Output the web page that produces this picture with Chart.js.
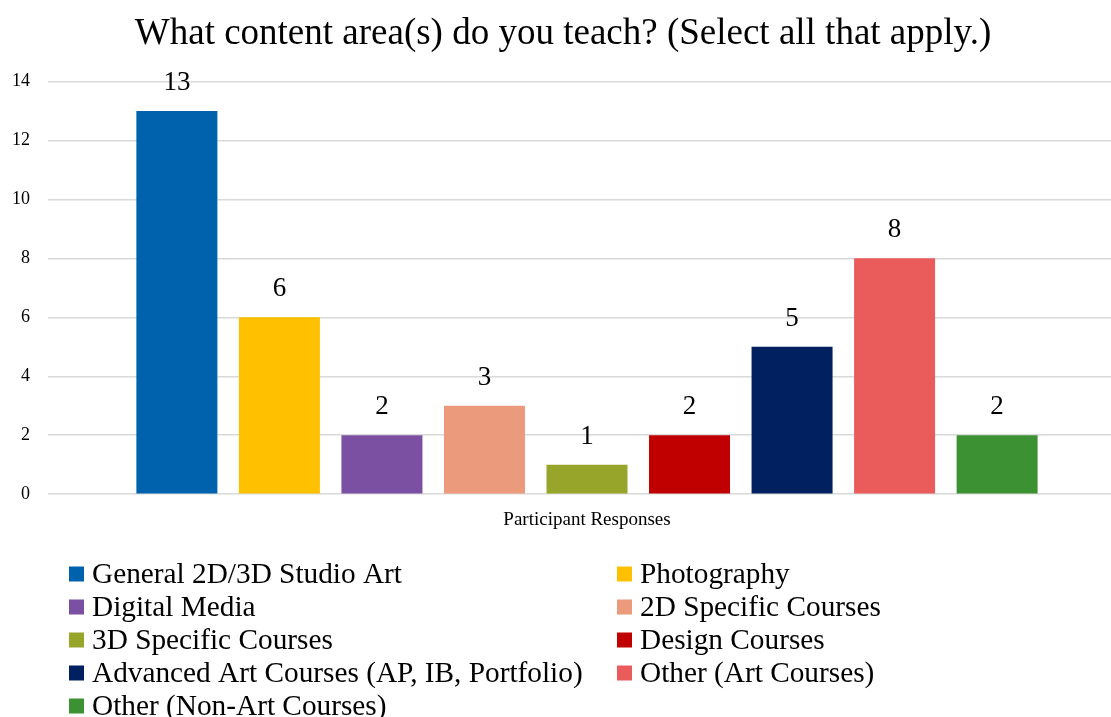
<!DOCTYPE html>
<html>
<head>
<meta charset="utf-8">
<script src="https://cdn.jsdelivr.net/npm/chart.js@4/dist/chart.umd.min.js"></script>
<style>
  html, body { margin: 0; padding: 0; background: #fff; overflow: hidden; }
  #wrap { width: 1126px; height: 717px; position: relative; }
</style>
</head>
<body>
<div id="wrap"><canvas id="areas"></canvas></div>
<script>
const categories = ['Participant Responses'];

const areaNames = [
  'General 2D/3D Studio Art',
  'Photography',
  'Digital Media',
  '2D Specific Courses',
  '3D Specific Courses',
  'Design Courses',
  'Advanced Art Courses (AP, IB, Portfolio)',
  'Other (Art Courses)',
  'Other (Non-Art Courses)'
];

const responseCounts = [13, 6, 2, 3, 1, 2, 5, 8, 2];

const areaColors = [
  '#0062AC', '#FFC000', '#7B4FA2', '#EB9A7B', '#97A52B',
  '#C00000', '#002060', '#EA5B5B', '#3C9133'
];

const yTicks = [0, 2, 4, 6, 8, 10, 12, 14];

const serif = "'Liberation Serif', 'Times New Roman', serif";

// value above each bar
const barValues = {
  id: 'barValues',
  afterDatasetsDraw(chart) {
    const { ctx } = chart;
    ctx.save();
    ctx.font = `27px ${serif}`;
    ctx.fillStyle = '#000';
    ctx.textAlign = 'center';
    ctx.textBaseline = 'alphabetic';
    chart.data.datasets.forEach((ds, i) => {
      const bar = chart.getDatasetMeta(i).data[0];
      ctx.fillText(String(ds.data[0]), bar.x, bar.y - 21);
    });
    ctx.restore();
  }
};

// two-column legend under the axis
const columnLegend = {
  id: 'columnLegend',
  afterDraw(chart) {
    const { ctx } = chart;
    const cols = [69, 617];
    const top = 574, rowH = 33, box = 15;
    ctx.save();
    ctx.font = `29.3px ${serif}`;
    ctx.textBaseline = 'middle';
    ctx.textAlign = 'left';
    chart.data.datasets.forEach((ds, i) => {
      const x = cols[i % 2];
      const y = top + Math.floor(i / 2) * rowH;
      ctx.fillStyle = ds.backgroundColor;
      ctx.fillRect(x, y - box / 2, box, box);
      ctx.fillStyle = '#000';
      ctx.fillText(ds.label, x + 23, y + 1);
    });
    ctx.restore();
  }
};

const startChart = () => new Chart(document.getElementById('areas'), {
  type: 'bar',
  data: {
    labels: categories,
    datasets: areaNames.map((name, i) => ({
      label: name,
      data: [responseCounts[i]],
      backgroundColor: areaColors[i],
      borderWidth: 0,
      categoryPercentage: 0.856,
      barPercentage: 0.79
    }))
  },
  options: {
    responsive: false,
    animation: false,
    devicePixelRatio: 1,
    layout: { padding: { left: 0, right: 0, top: 0, bottom: 180 } },
    plugins: {
      legend: { display: false },
      tooltip: { enabled: false },
      title: {
        display: true,
        text: 'What content area(s) do you teach? (Select all that apply.)',
        color: '#000',
        font: { family: serif, size: 37, weight: 'normal' },
        padding: { top: 12, bottom: 25 }
      }
    },
    scales: {
      x: {
        grid: { display: false },
        border: { display: false },
        ticks: { color: '#000', font: { family: serif, size: 19 }, padding: 6 }
      },
      y: {
        min: 0,
        max: 14,
        afterBuildTicks: axis => { axis.ticks = yTicks.map(v => ({ value: v })); },
        afterFit: axis => { axis.width = 48; },
        grid: { color: '#d9d9d9', lineWidth: 1.5, drawTicks: false },
        border: { display: false },
        ticks: { color: '#000', font: { family: serif, size: 18 }, padding: 18 }
      }
    }
  },
  plugins: [barValues, columnLegend]
});

const canvas = document.getElementById('areas');
canvas.width = 1126;
canvas.height = 717;
canvas.style.width = '1126px';
canvas.style.height = '717px';
startChart();
</script>
</body>
</html>
